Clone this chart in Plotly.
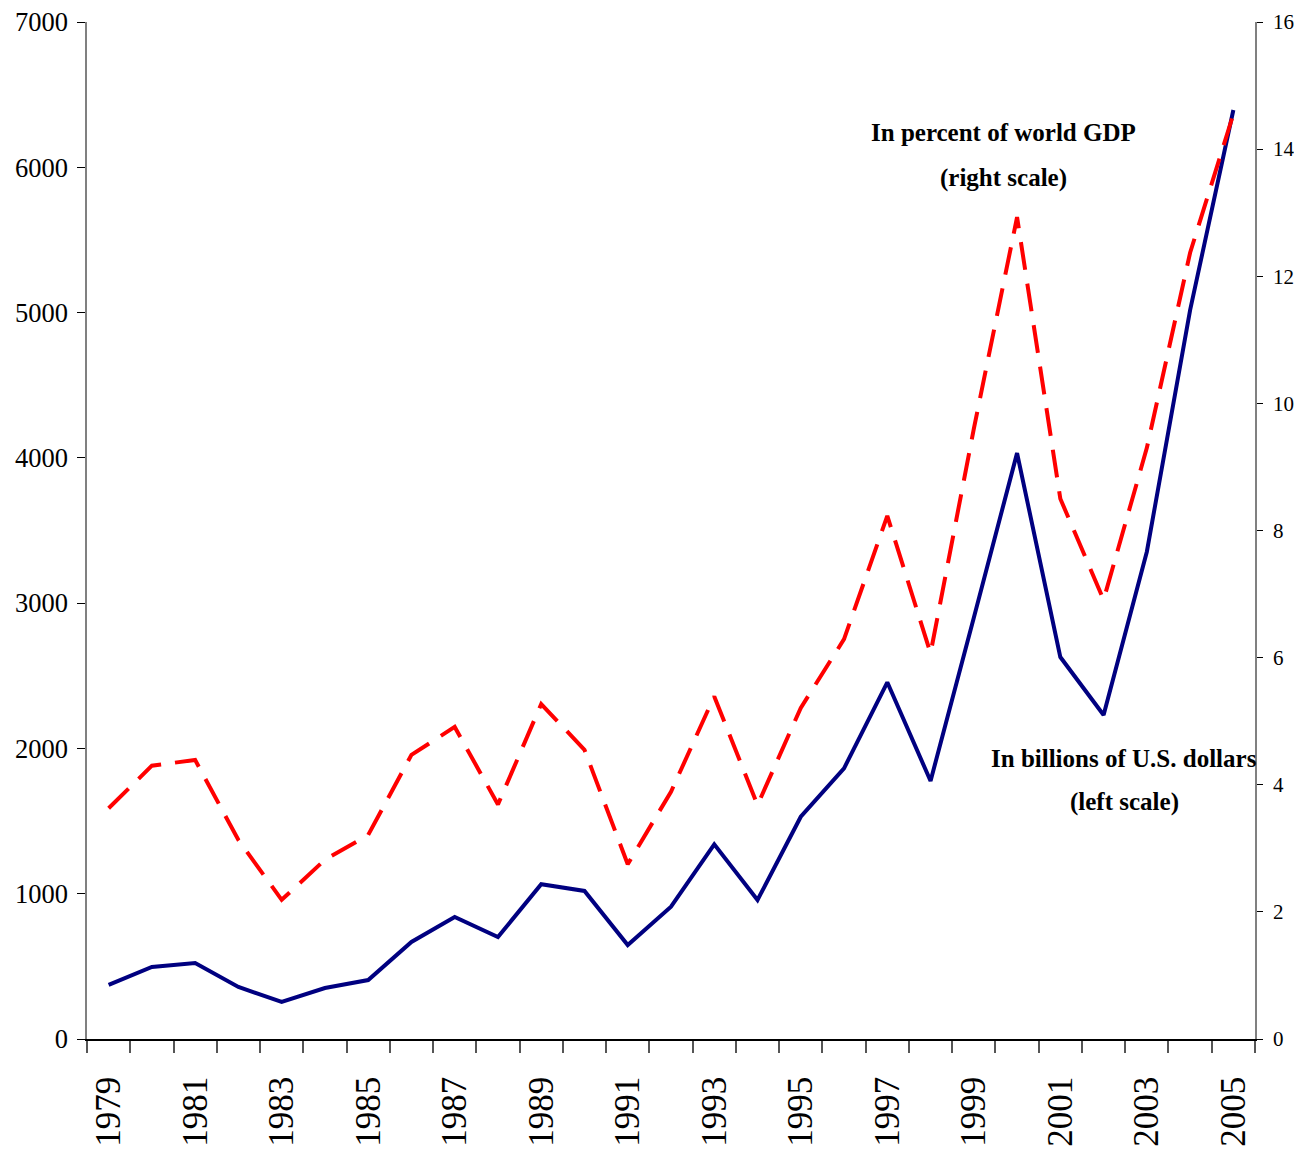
import plotly.graph_objects as go

years = list(range(1979, 2006))
billions_usd = [372, 496, 523, 358, 255, 351, 406, 668, 840, 702,
                1065, 1019, 647, 911, 1340, 957, 1530, 1863, 2455, 1776,
                2900, 4033, 2629, 2230, 3354, 5017, 6394]
pct_world_gdp = [3.63, 4.30, 4.39, 3.13, 2.19, 2.82, 3.21, 4.47, 4.91, 3.69,
                 5.27, 4.55, 2.75, 3.89, 5.39, 3.68, 5.21, 6.29, 8.23, 6.07,
                 9.6, 12.93, 8.50, 6.91, 9.3, 12.37, 14.55]

FONT = "Liberation Serif"

# page body has an 8px margin; compensate so the plot area lands where the reference has it
W, H = 1286, 1144
L, T = 79, 14
PLOT_W = 1255 - 87
PLOT_H = 1039 - 22
R = W - L - PLOT_W
B = H - T - PLOT_H

fig = go.Figure()
fig.add_trace(go.Scatter(x=years, y=billions_usd, mode="lines",
                         line=dict(color="#000080", width=4),
                         yaxis="y", showlegend=False))
fig.add_trace(go.Scatter(x=years, y=pct_world_gdp, mode="lines",
                         line=dict(color="#FF0000", width=4, dash="28px,14px"),
                         yaxis="y2", showlegend=False))

fig.update_layout(
    width=W, height=H,
    margin=dict(l=L, r=R, t=T, b=B, autoexpand=False),
    paper_bgcolor="white", plot_bgcolor="white",
    font=dict(family=FONT, color="black"),
    xaxis=dict(
        range=[1978.5, 2005.5], showgrid=False, zeroline=False,
        showline=True, linecolor="black", linewidth=1.5,
        tickmode="linear", tick0=1979, dtick=2, ticks="",
        tickangle=-90, tickfont=dict(family=FONT, size=35, color="black"),
        ticklabelstandoff=22, ticklabeloverflow="allow",
        minor=dict(tickmode="linear", tick0=1978.5, dtick=1, ticks="outside",
                   ticklen=12, tickcolor="#555555", tickwidth=1.5),
    ),
    yaxis=dict(
        range=[0, 7000], tickmode="linear", tick0=0, dtick=1000,
        showgrid=False, zeroline=False,
        showline=True, linecolor="#808080", linewidth=1.5,
        ticks="outside", ticklen=8, tickcolor="black", tickwidth=1.2,
        tickfont=dict(family=FONT, size=26.5, color="black"),
        ticklabelstandoff=4, ticklabeloverflow="allow",
    ),
    yaxis2=dict(
        range=[0, 16], tickmode="linear", tick0=0, dtick=2,
        overlaying="y", side="right", anchor="x",
        showgrid=False, zeroline=False,
        showline=True, linecolor="#808080", linewidth=1.5,
        ticks="outside", ticklen=6, tickcolor="black", tickwidth=1.2,
        tickfont=dict(family=FONT, size=21, color="black"),
        ticklabelstandoff=6, ticklabeloverflow="allow",
    ),
    yaxis3=dict(
        range=[0, 16], tickmode="linear", tick0=0, dtick=2,
        overlaying="y", side="right", anchor="x",
        showgrid=False, zeroline=False, showline=False,
        ticks="inside", ticklen=6, tickcolor="black", tickwidth=1.2,
        showticklabels=False,
    ),
)

def px_x(px):
    return (px - 87) / PLOT_W

def px_y(py):
    return (1039 - py) / PLOT_H

ann_font = dict(family=FONT, size=25, color="black")
fig.add_annotation(text="<b>In percent of world GDP</b>", xref="paper", yref="paper",
                   x=px_x(1003), y=px_y(133), showarrow=False,
                   font=ann_font, xanchor="center", yanchor="middle")
fig.add_annotation(text="<b>(right scale)</b>", xref="paper", yref="paper",
                   x=px_x(1003), y=px_y(178), showarrow=False,
                   font=ann_font, xanchor="center", yanchor="middle")
fig.add_annotation(text="<b>In billions of U.S. dollars</b>", xref="paper", yref="paper",
                   x=px_x(1124), y=px_y(758), showarrow=False,
                   font=ann_font, xanchor="center", yanchor="middle")
fig.add_annotation(text="<b>(left scale)</b>", xref="paper", yref="paper",
                   x=px_x(1124), y=px_y(802), showarrow=False,
                   font=ann_font, xanchor="center", yanchor="middle")

fig.write_html("out.html")
